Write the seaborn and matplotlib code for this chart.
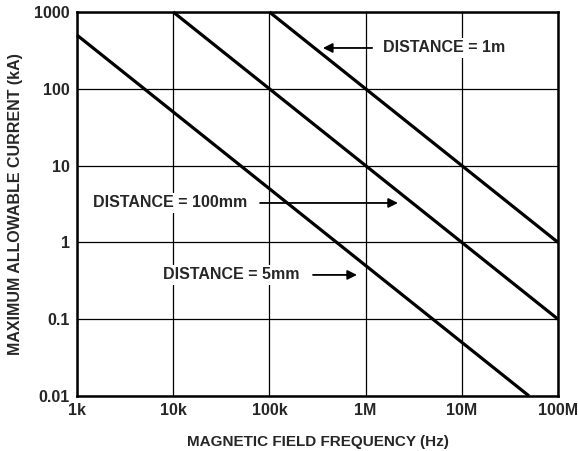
import pandas as pd
import numpy as np
import matplotlib
matplotlib.use('Agg')
import matplotlib.pyplot as plt
import seaborn as sns
from matplotlib import font_manager
from matplotlib.ticker import FixedLocator, FixedFormatter, NullLocator

# curve end points (Hz, kA)
freq_1m = [1e5, 1e8]
amps_1m = [1000, 1]
freq_100mm = [1e4, 1e8]
amps_100mm = [1000, 0.1]
freq_5mm = [1e3, 5e7]
amps_5mm = [500, 0.01]

x_ticks = [1e3, 1e4, 1e5, 1e6, 1e7, 1e8]
x_labels = ['1k', '10k', '100k', '1M', '10M', '100M']
y_ticks = [0.01, 0.1, 1, 10, 100, 1000]
y_labels = ['0.01', '0.1', '1', '10', '100', '1000']

df = pd.concat([
    pd.DataFrame({'freq': freq_1m, 'amps': amps_1m, 'dist': '1m'}),
    pd.DataFrame({'freq': freq_100mm, 'amps': amps_100mm, 'dist': '100mm'}),
    pd.DataFrame({'freq': freq_5mm, 'amps': amps_5mm, 'dist': '5mm'}),
])

# pick a family that really has a bold face
fam = 'DejaVu Sans'
for cand in ['Liberation Sans', 'Arimo', 'Roboto', 'Open Sans', 'Inter', 'Lato', 'Noto Sans']:
    hits = [f for f in font_manager.fontManager.ttflist
            if f.name == cand and (f.weight == 'bold' or (isinstance(f.weight, int) and f.weight >= 700))]
    if hits:
        fam = cand
        break

sns.set_style('white')
plt.rcParams['font.family'] = [fam, 'DejaVu Sans']
plt.rcParams['font.weight'] = 'bold'

fig = plt.figure(figsize=(5.78, 4.51), dpi=100)
ax = fig.add_axes([0.1332, 0.122, 0.8322, 0.8514])

ax.set_xscale('log')
ax.set_yscale('log')
ax.set_xlim(1e3, 1e8)
ax.set_ylim(0.01, 1000)

ax.xaxis.set_major_locator(FixedLocator(x_ticks))
ax.xaxis.set_major_formatter(FixedFormatter(x_labels))
ax.xaxis.set_minor_locator(NullLocator())
ax.yaxis.set_major_locator(FixedLocator(y_ticks))
ax.yaxis.set_major_formatter(FixedFormatter(y_labels))
ax.yaxis.set_minor_locator(NullLocator())
ax.tick_params(length=0, labelsize=11.5, pad=5)
for lab in ax.get_xticklabels() + ax.get_yticklabels():
    lab.set_fontweight('bold')

ax.grid(True, color='black', linewidth=0.9)
ax.set_axisbelow(True)
for sp in ax.spines.values():
    sp.set_color('black')
    sp.set_linewidth(1.8)

sns.lineplot(data=df, x='freq', y='amps', units='dist', estimator=None,
             color='black', linewidth=2.3, ax=ax, legend=False,
             solid_capstyle='butt', clip_on=False, zorder=3)

ax.set_xlabel('MAGNETIC FIELD FREQUENCY (Hz)', fontsize=11, fontweight='bold', labelpad=12)
ax.set_ylabel('MAXIMUM ALLOWABLE CURRENT (kA)', fontsize=11.5, fontweight='bold', labelpad=8)

box = dict(facecolor='white', edgecolor='none', pad=2)
arrow = dict(arrowstyle='-|>', color='black', lw=1.3, mutation_scale=14, shrinkA=0, shrinkB=0)

# DISTANCE = 1m
ax.text(1.51e6, 340, 'DISTANCE = 1m', fontsize=11.5, fontweight='bold', va='center', ha='left', bbox=box, zorder=4)
ax.annotate('', xy=(3.6e5, 340), xytext=(1.17e6, 340), arrowprops=arrow, zorder=4)

# DISTANCE = 100mm
ax.text(1.47e3, 3.26, 'DISTANCE = 100mm', fontsize=11.5, fontweight='bold', va='center', ha='left', bbox=box, zorder=4)
ax.annotate('', xy=(2.17e6, 3.26), xytext=(8.0e4, 3.26), arrowprops=arrow, zorder=4)

# DISTANCE = 5mm
ax.text(7.83e3, 0.377, 'DISTANCE = 5mm', fontsize=11.5, fontweight='bold', va='center', ha='left', bbox=box, zorder=4)
ax.annotate('', xy=(8.14e5, 0.377), xytext=(2.84e5, 0.377), arrowprops=arrow, zorder=4)

plt.savefig('out.png', dpi=100, facecolor='white')
plt.close('all')
